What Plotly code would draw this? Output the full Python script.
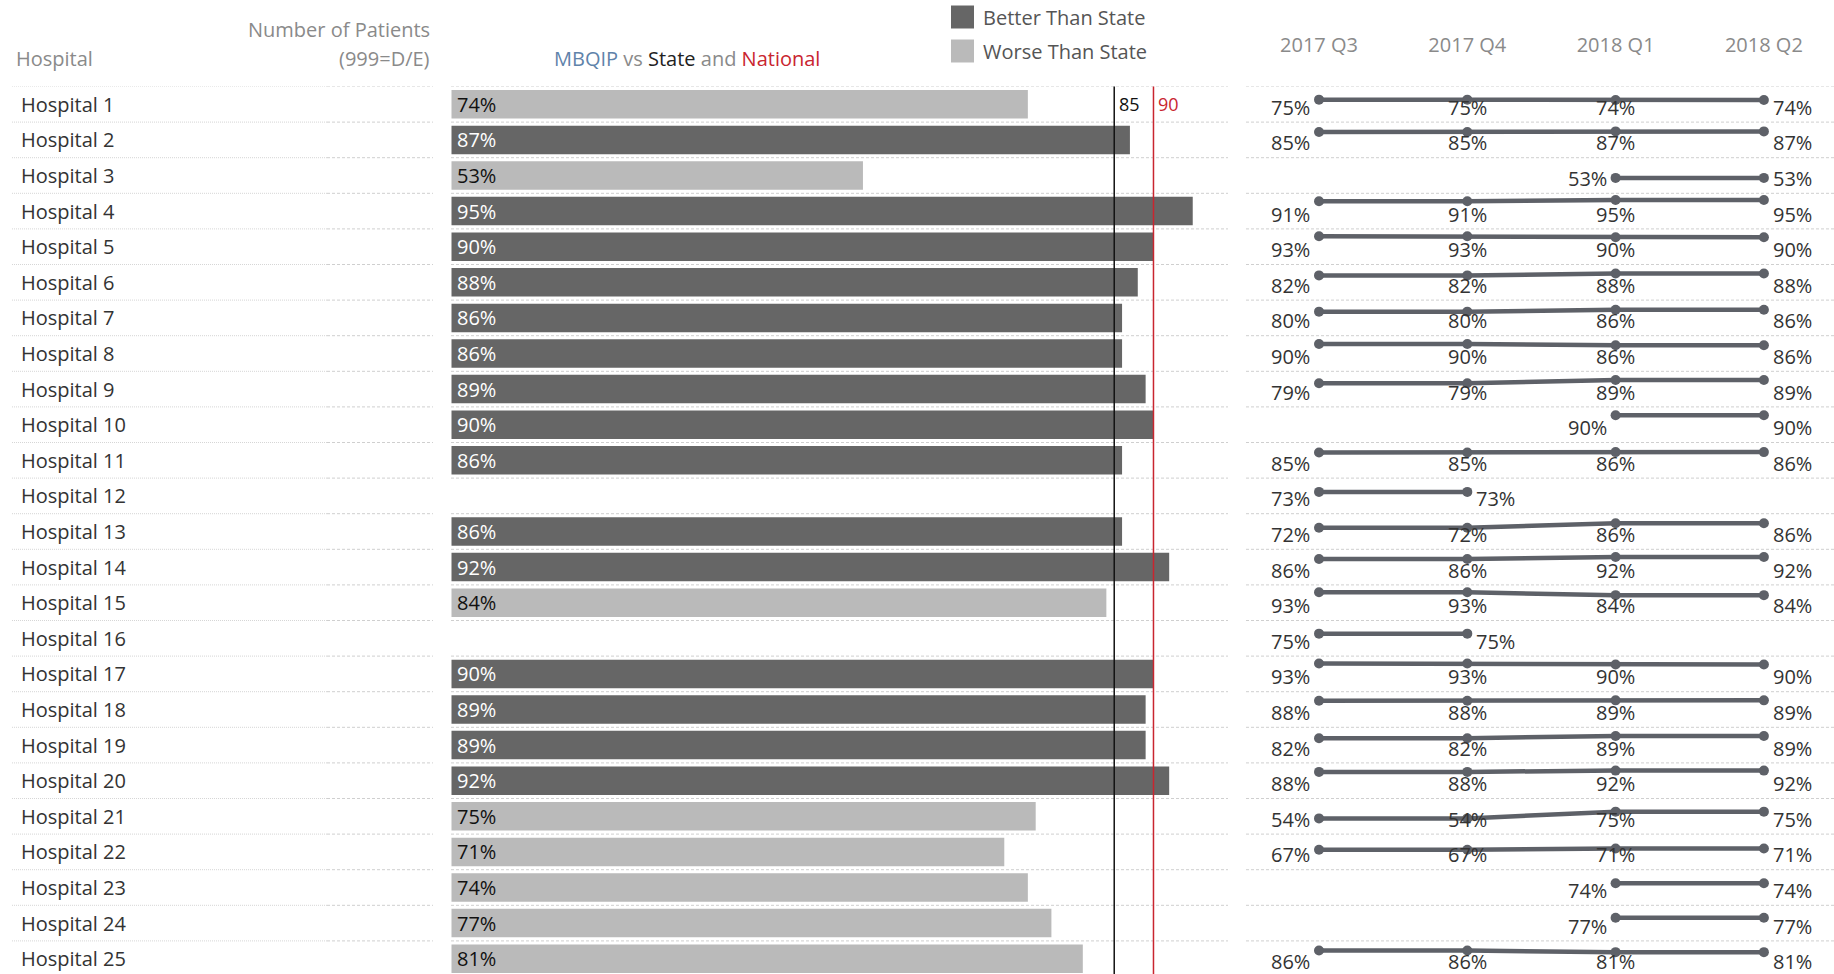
import plotly.graph_objects as go

# ---------------- data ----------------
hospitals = [f"Hospital {i}" for i in range(1, 26)]
quarters = ["2017 Q3", "2017 Q4", "2018 Q1", "2018 Q2"]

q2017_3 = [75, 85, None, 91, 93, 82, 80, 90, 79, None, 85, 73, 72, 86, 93, 75, 93, 88, 82, 88, 54, 67, None, None, 86]
q2017_4 = [75, 85, None, 91, 93, 82, 80, 90, 79, None, 85, 73, 72, 86, 93, 75, 93, 88, 82, 88, 54, 67, None, None, 86]
q2018_1 = [74, 87, 53, 95, 90, 88, 86, 86, 89, 90, 86, None, 86, 92, 84, None, 90, 89, 89, 92, 75, 71, 74, 77, 81]
q2018_2 = [74, 87, 53, 95, 90, 88, 86, 86, 89, 90, 86, None, 86, 92, 84, None, 90, 89, 89, 92, 75, 71, 74, 77, 81]

bar_values = [74, 87, 53, 95, 90, 88, 86, 86, 89, 90, 86, None, 86, 92, 84, None, 90, 89, 89, 92, 75, 71, 74, 77, 81]
state_value = 85
national_value = 90
legend_labels = ["Better Than State", "Worse Than State"]

# ---------------- styles / layout constants ----------------
W, H = 1834, 974
TOP = 86.5      # px of first row boundary
ROW = 35.6      # px per row
FONT = "Open Sans"
FS = 20
DARK = "#666666"
LIGHT = "#bababa"
RED = "#c9252f"
LINE_C = "#5e6168"
SEP_C = "#cfcfcf"
GRAY_T = "#8a8a8a"
TEXT_DY = 0


def py(p):
    return 1 - p / H


def px(p):
    return p / W


x3_left, x3_right = 1246, 1834
step = 148.3
first_pt = 1319
r0 = -(first_pt - x3_left) / step
r1 = r0 + (x3_right - x3_left) / step

# bar axis: 0 sits at 446.8 px, 100 at 1232 px; panel edge starts at 451.5 px
bar_zero_px, bar_100_px, bar_left_px = 446.8, 1232, 451.5
bar_lo = (bar_left_px - bar_zero_px) * 100 / (bar_100_px - bar_zero_px)

fig = go.Figure()
annotations = []

# hospital names
for h in hospitals:
    annotations.append(dict(xref="x", yref="y", x=0, y=h, text=h, xanchor="left", yanchor="middle",
                            yshift=TEXT_DY, showarrow=False,
                            font=dict(family=FONT, size=FS, color="#333333")))

# bars
bar_colors = [DARK if (v is not None and v >= state_value) else LIGHT for v in bar_values]
fig.add_trace(go.Bar(
    x=bar_values, y=hospitals, orientation="h", xaxis="x2", yaxis="y",
    marker=dict(color=bar_colors, line=dict(width=0)),
    width=0.8, showlegend=False, hoverinfo="skip"))
for h, v in zip(hospitals, bar_values):
    if v is None:
        continue
    annotations.append(dict(xref="x2", yref="y", x=bar_lo, y=h, text=f"{v}%",
                            xanchor="left", yanchor="middle", xshift=3, yshift=TEXT_DY,
                            showarrow=False,
                            font=dict(family=FONT, size=FS,
                                      color="#ffffff" if v >= state_value else "#111111")))

# sparkline rows
series = [q2017_3, q2017_4, q2018_1, q2018_2]
lo_base, hi_base = 5, 116
layout_rows = {}
for i, h in enumerate(hospitals):
    vals = [s[i] for s in series]
    top = TOP + ROW * i
    bot = top + ROW
    lo, hi = lo_base, hi_base
    if bot > H:
        lo = lo + (hi - lo) * (bot - H) / ROW
        bot = H
    ax = f"yaxis{i + 2}"
    layout_rows[ax] = dict(domain=[py(bot), py(top)], range=[lo, hi], visible=False,
                           anchor="x3", fixedrange=True)
    fig.add_trace(go.Scatter(
        x=quarters, y=vals, mode="lines+markers", xaxis="x3", yaxis=f"y{i + 2}",
        line=dict(color=LINE_C, width=4.5), marker=dict(color=LINE_C, size=10),
        connectgaps=False, showlegend=False, hoverinfo="skip", cliponaxis=False))

# invisible anchor trace so names panel axis exists
fig.add_trace(go.Scatter(x=[None], y=[None], xaxis="x", yaxis="y", showlegend=False,
                         hoverinfo="skip"))

# sparkline labels (row-centred, first left / middle centred / last right)
for i, h in enumerate(hospitals):
    vals = [s[i] for s in series]
    idx = [k for k, v in enumerate(vals) if v is not None]
    for k in idx:
        if k == idx[0]:
            anchor, xs = "right", -7
        elif k == idx[-1]:
            anchor, xs = "left", 7
        else:
            anchor, xs = "center", 0
        annotations.append(dict(xref="x3", yref="y", x=quarters[k], y=h, text=f"{vals[k]}%",
                                xanchor=anchor, yanchor="middle", xshift=xs, yshift=-3,
                                showarrow=False, font=dict(family=FONT, size=FS, color="#333333")))

# ---------------- shapes ----------------
shapes = []
ymin_row = -0.5
for b in range(len(hospitals) + 1):
    yb = ymin_row + b
    for x0, x1, dash, col in [(12, 327, "1px,1px", "#d6d6d6"), (327, 433, "3px,2px", SEP_C),
                              (451, 1228, "3px,2px", SEP_C), (1246, 1834, "3px,2px", SEP_C)]:
        shapes.append(dict(type="line", xref="paper", yref="y", x0=px(x0), x1=px(x1),
                           y0=yb, y1=yb, line=dict(color=col, width=1, dash=dash), layer="below"))

for val, col in [(state_value, "#111111"), (national_value, RED)]:
    shapes.append(dict(type="line", xref="x2", yref="paper", x0=val, x1=val,
                       y0=0, y1=py(TOP), line=dict(color=col, width=1.5), layer="above"))

# legend squares
for k, col in enumerate([DARK, LIGHT]):
    yc = 17 + 34 * k
    shapes.append(dict(type="rect", xref="paper", yref="paper", x0=px(951), x1=px(974),
                       y0=py(yc + 11.5), y1=py(yc - 11.5), fillcolor=col, line=dict(width=0)))

for k, lab in enumerate(legend_labels):
    yc = 17 + 34 * k
    annotations.append(dict(xref="paper", yref="paper", x=px(981), y=py(yc), text=lab,
                            xanchor="left", yanchor="middle", showarrow=False,
                            font=dict(family=FONT, size=FS, color="#555555")))

annotations.append(dict(xref="x2", yref="y", x=state_value, y=hospitals[0], text=str(state_value),
                        xanchor="left", yanchor="middle", xshift=3, showarrow=False,
                        font=dict(family=FONT, size=18, color="#111111")))
annotations.append(dict(xref="x2", yref="y", x=national_value, y=hospitals[0], text=str(national_value),
                        xanchor="left", yanchor="middle", xshift=3, showarrow=False,
                        font=dict(family=FONT, size=18, color=RED)))

annotations.append(dict(xref="paper", yref="paper", x=px(686.6), y=py(58.5),
                        text=("<span style='color:#5f83aa'>MBQIP</span> vs "
                              "<span style='color:#222222'>State</span> and "
                              "<span style='color:%s'>National</span>" % RED),
                        xanchor="center", yanchor="middle", showarrow=False,
                        font=dict(family=FONT, size=FS, color=GRAY_T)))
annotations.append(dict(xref="paper", yref="paper", x=px(14), y=py(58.5), text="Hospital",
                        xanchor="left", yanchor="middle", showarrow=False,
                        font=dict(family=FONT, size=FS, color=GRAY_T)))
annotations.append(dict(xref="paper", yref="paper", x=px(432), y=py(30), text="Number of Patients",
                        xanchor="right", yanchor="middle", showarrow=False,
                        font=dict(family=FONT, size=FS, color=GRAY_T)))
annotations.append(dict(xref="paper", yref="paper", x=px(432), y=py(58.5), text="(999=D/E)",
                        xanchor="right", yanchor="middle", showarrow=False,
                        font=dict(family=FONT, size=FS, color=GRAY_T)))

# ---------------- layout ----------------
fig.update_layout(
    width=W, height=H, margin=dict(l=0, r=0, t=0, b=0),
    paper_bgcolor="white", plot_bgcolor="rgba(0,0,0,0)",
    showlegend=False, hovermode=False,
    xaxis=dict(domain=[px(18.5), px(440)], range=[0, 1], visible=False, fixedrange=True),
    xaxis2=dict(domain=[px(bar_left_px), px(bar_100_px)], range=[bar_lo, 100], visible=False,
                fixedrange=True),
    xaxis3=dict(domain=[px(x3_left), px(x3_right)], type="category", categoryarray=quarters,
                range=[r0, r1], side="top", anchor="free", position=py(55.5), showline=False,
                showgrid=False, zeroline=False, ticks="", fixedrange=True,
                tickfont=dict(family=FONT, size=FS, color=GRAY_T)),
    yaxis=dict(domain=[0, py(TOP)], type="category", categoryarray=hospitals,
               range=[-0.5 + (H - TOP) / ROW, -0.5], visible=False, fixedrange=True),
    shapes=shapes, annotations=annotations,
    **layout_rows,
)

fig.write_html("out.html", config={"displayModeBar": False},
               post_script="document.body.style.margin='0px';")
